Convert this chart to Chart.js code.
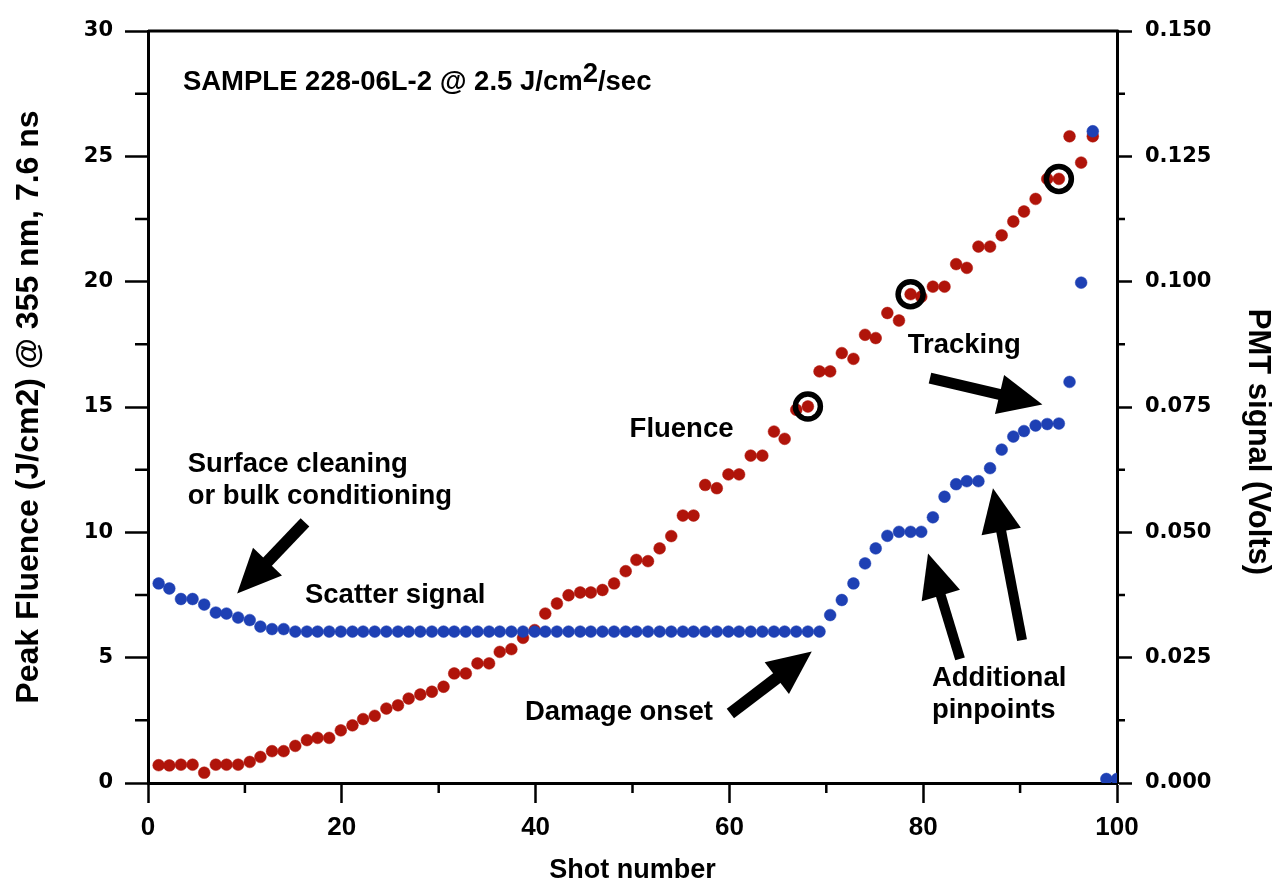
<!DOCTYPE html>
<html>
<head>
<meta charset="utf-8">
<title>Sample 228-06L-2 fluence and scatter signal</title>
<script src="https://cdn.jsdelivr.net/npm/chart.js@4.4.1/dist/chart.umd.min.js"></script>
<style>
  html, body { margin: 0; padding: 0; background: #fff; }
  #wrap { width: 1283px; height: 883px; position: relative; }
</style>
</head>
<body>
<div id="wrap"><canvas id="chart"></canvas></div>
<script>
// Shot positions (shared by both series, last two only blue)
const shots = [
  1.1, 2.2, 3.4, 4.6, 5.8, 7.0, 8.1, 9.3, 10.5, 11.6,
  12.8, 14.0, 15.2, 16.4, 17.5, 18.7, 19.9, 21.1, 22.2, 23.4,
  24.6, 25.8, 26.9, 28.1, 29.3, 30.5, 31.6, 32.8, 34.0, 35.2,
  36.3, 37.5, 38.7, 39.9, 41.0, 42.2, 43.4, 44.6, 45.7, 46.9,
  48.1, 49.3, 50.4, 51.6, 52.8, 54.0, 55.2, 56.3, 57.5, 58.7,
  59.9, 61.0, 62.2, 63.4, 64.6, 65.7, 66.9, 68.1, 69.3, 70.4,
  71.6, 72.8, 74.0, 75.1, 76.3, 77.5, 78.7, 79.8, 81.0, 82.2,
  83.4, 84.5, 85.7, 86.9, 88.1, 89.3, 90.4, 91.6, 92.8, 94.0,
  95.1, 96.3, 97.5, 98.9, 100.0
];

// Peak fluence, J/cm2 (left axis)
const fluence = [
  0.71, 0.70, 0.73, 0.73, 0.41, 0.73, 0.73, 0.73, 0.84, 1.04,
  1.27, 1.27, 1.48, 1.71, 1.80, 1.80, 2.10, 2.30, 2.55, 2.68,
  2.97, 3.10, 3.37, 3.53, 3.64, 3.84, 4.37, 4.37, 4.77, 4.77,
  5.23, 5.34, 5.79, 6.10, 6.76, 7.16, 7.49, 7.60, 7.60, 7.70,
  7.96, 8.45, 8.90, 8.85, 9.36, 9.85, 10.67, 10.67, 11.89, 11.76,
  12.31, 12.31, 13.06, 13.06, 14.02, 13.73, 14.89, 15.02, 16.42, 16.42,
  17.15, 16.92, 17.88, 17.75, 18.75, 18.45, 19.50, 19.40, 19.80, 19.80,
  20.70, 20.55, 21.40, 21.40, 21.85, 22.40, 22.80, 23.30, 24.10, 24.10,
  25.80, 24.75, 25.80
];

// PMT scatter signal, volts (right axis)
const pmt = [
  0.0398, 0.0388, 0.0367, 0.0367, 0.0356, 0.0340, 0.0338, 0.0330, 0.0325, 0.0312,
  0.0307, 0.0307, 0.0302, 0.0302, 0.0302, 0.0302, 0.0302, 0.0302, 0.0302, 0.0302,
  0.0302, 0.0302, 0.0302, 0.0302, 0.0302, 0.0302, 0.0302, 0.0302, 0.0302, 0.0302,
  0.0302, 0.0302, 0.0302, 0.0302, 0.0302, 0.0302, 0.0302, 0.0302, 0.0302, 0.0302,
  0.0302, 0.0302, 0.0302, 0.0302, 0.0302, 0.0302, 0.0302, 0.0302, 0.0302, 0.0302,
  0.0302, 0.0302, 0.0302, 0.0302, 0.0302, 0.0302, 0.0302, 0.0302, 0.0302, 0.0335,
  0.0365, 0.0398, 0.0438, 0.0468, 0.0493, 0.0501, 0.0501, 0.0501, 0.0530, 0.0571,
  0.0596, 0.0602, 0.0602, 0.0628, 0.0665, 0.0691, 0.0702, 0.0713, 0.0716, 0.0717,
  0.0800, 0.0998, 0.1300, 0.0008, 0.0008
];

// shots that are circled in black
const ringed = [57, 66, 79];

const xMinor = [10, 30, 50, 70, 90];
const yMinor = [2.5, 7.5, 12.5, 17.5, 22.5, 27.5];
const y1Minor = [0.0125, 0.0375, 0.0625, 0.0875, 0.1125, 0.1375];

const RED = "#b0140a";
const BLUE = "#1e40b4";
const annFont = 'bold 27.5px "Liberation Sans", Arial, sans-serif';

// annotation positions in data units (x: shot, y: left axis)
const labels = [
  { text: "Surface cleaning", x: 4.1, y: 12.4 },
  { text: "or bulk conditioning", x: 4.1, y: 11.15 },
  { text: "Scatter signal", x: 16.2, y: 7.17 },
  { text: "Fluence", x: 49.7, y: 13.8 },
  { text: "Damage onset", x: 38.9, y: 2.5 },
  { text: "Tracking", x: 78.4, y: 17.15 },
  { text: "Additional", x: 80.9, y: 3.85 },
  { text: "pinpoints", x: 80.9, y: 2.6 }
];
const arrows = [
  { from: [16.2, 10.4], to: [9.2, 7.56], w: 12 },
  { from: [60.1, 2.77], to: [68.5, 5.25], w: 12 },
  { from: [80.7, 16.15], to: [92.3, 15.1], w: 11 },
  { from: [83.8, 4.95], to: [80.5, 9.16], w: 10 },
  { from: [90.2, 5.7], to: [87.2, 11.76], w: 10 }
];

function drawArrow(ctx, x0, y0, x1, y1, w) {
  const dx = x1 - x0, dy = y1 - y0;
  const len = Math.sqrt(dx * dx + dy * dy);
  const ux = dx / len, uy = dy / len;
  const headLen = 44, headW = 20;
  const bx = x1 - ux * headLen, by = y1 - uy * headLen;
  ctx.lineWidth = w;
  ctx.lineCap = "butt";
  ctx.beginPath();
  ctx.moveTo(x0, y0);
  ctx.lineTo(bx + ux * 2, by + uy * 2);
  ctx.stroke();
  ctx.beginPath();
  ctx.moveTo(x1, y1);
  ctx.lineTo(bx - uy * headW, by + ux * headW);
  ctx.lineTo(bx + uy * headW, by - ux * headW);
  ctx.closePath();
  ctx.fill();
}

const overlay = {
  id: "overlay",
  afterDraw(chart) {
    const { ctx, chartArea, scales } = chart;
    const px = v => scales.x.getPixelForValue(v);
    const py = v => scales.y.getPixelForValue(v);
    ctx.save();
    ctx.strokeStyle = "#000";
    ctx.fillStyle = "#000";

    // top edge of the frame
    ctx.lineWidth = 3;
    ctx.beginPath();
    ctx.moveTo(chartArea.left, chartArea.top);
    ctx.lineTo(chartArea.right + 1.5, chartArea.top);
    ctx.stroke();

    // minor ticks
    ctx.lineWidth = 2.5;
    ctx.beginPath();
    xMinor.forEach(v => {
      ctx.moveTo(px(v), chartArea.bottom);
      ctx.lineTo(px(v), chartArea.bottom + 10);
    });
    yMinor.forEach(v => {
      ctx.moveTo(chartArea.left, py(v));
      ctx.lineTo(chartArea.left - 13, py(v));
    });
    y1Minor.forEach(v => {
      const y = scales.y1.getPixelForValue(v);
      ctx.moveTo(chartArea.right, y);
      ctx.lineTo(chartArea.right + 8, y);
    });
    ctx.stroke();

    // right axis title, sits a bit below the middle in the original
    ctx.save();
    ctx.translate(1258, 442);
    ctx.rotate(Math.PI / 2);
    ctx.font = 'bold 31px "Liberation Sans", Arial, sans-serif';
    ctx.textAlign = "center";
    ctx.textBaseline = "middle";
    ctx.fillText("PMT signal (Volts)", 0, 0);
    ctx.restore();

    // header text with superscript
    ctx.font = annFont;
    ctx.textAlign = "left";
    ctx.textBaseline = "alphabetic";
    let tx = px(3.6), ty = py(27.64);
    const part1 = "SAMPLE 228-06L-2 @ 2.5 J/cm";
    ctx.fillText(part1, tx, ty);
    tx += ctx.measureText(part1).width;
    ctx.fillText("2", tx, ty - 8);
    tx += ctx.measureText("2").width;
    ctx.fillText("/sec", tx, ty);

    labels.forEach(l => ctx.fillText(l.text, px(l.x), py(l.y)));

    arrows.forEach(a => {
      drawArrow(ctx, px(a.from[0]), py(a.from[1]), px(a.to[0]), py(a.to[1]), a.w);
    });
    ctx.restore();
  }
};

const tickFontY = { family: '"DejaVu Sans", sans-serif', size: 21, weight: "bold" };
const tickFontX = { family: '"Liberation Sans", Arial, sans-serif', size: 26, weight: "bold" };

new Chart(document.getElementById("chart"), {
  type: "scatter",
  data: {
    datasets: [
      {
        label: "circled",
        data: ringed.map(i => ({ x: shots[i], y: fluence[i] })),
        yAxisID: "y",
        pointRadius: 12.5,
        borderWidth: 5.5,
        borderColor: "#000",
        backgroundColor: "rgba(0,0,0,0)"
      },
      {
        label: "Scatter signal",
        data: pmt.map((v, i) => ({ x: shots[i], y: v })),
        yAxisID: "y1",
        pointRadius: 5.9,
        borderWidth: 0.5,
        borderColor: BLUE,
        backgroundColor: BLUE
      },
      {
        label: "Fluence",
        data: fluence.map((v, i) => ({ x: shots[i], y: v })),
        yAxisID: "y",
        pointRadius: 5.9,
        borderWidth: 0.5,
        borderColor: RED,
        backgroundColor: RED
      }
    ]
  },
  options: {
    responsive: true,
    maintainAspectRatio: false,
    animation: false,
    layout: { padding: { top: 31, left: 0, right: 0, bottom: 0 } },
    plugins: { legend: { display: false }, tooltip: { enabled: false } },
    scales: {
      x: {
        type: "linear",
        min: 0, max: 100,
        afterFit: s => { s.height = 100; },
        border: { display: true, color: "#000", width: 3 },
        grid: { drawOnChartArea: false, drawTicks: true, tickLength: 20, tickWidth: 2.5, tickColor: "#000" },
        ticks: { stepSize: 20, color: "#000", font: tickFontX, padding: 9, maxRotation: 0 },
        title: {
          display: true, text: "Shot number", color: "#000",
          font: { family: '"Liberation Sans", Arial, sans-serif', size: 27, weight: "bold" },
          padding: { top: 0, bottom: -4 }
        }
      },
      y: {
        position: "left",
        min: 0, max: 30,
        afterFit: s => { s.width = 148; },
        border: { display: true, color: "#000", width: 3 },
        grid: { drawOnChartArea: false, drawTicks: true, tickLength: 23, tickWidth: 2.5, tickColor: "#000" },
        ticks: { stepSize: 5, color: "#000", font: tickFontY, padding: 12 },
        title: {
          display: true, text: "Peak Fluence (J/cm2) @ 355 nm, 7.6 ns", color: "#000",
          font: { family: '"Liberation Sans", Arial, sans-serif', size: 32, weight: "bold" },
          padding: { top: 10, bottom: 0 }
        }
      },
      y1: {
        position: "right",
        min: 0, max: 0.15,
        afterFit: s => { s.width = 166; },
        border: { display: true, color: "#000", width: 3 },
        grid: { drawOnChartArea: false, drawTicks: true, tickLength: 15, tickWidth: 2.5, tickColor: "#000" },
        ticks: { stepSize: 0.025, color: "#000", font: tickFontY, padding: 13, callback: v => v.toFixed(3) },
        title: { display: false }
      }
    }
  },
  plugins: [overlay]
});
</script>
</body>
</html>
